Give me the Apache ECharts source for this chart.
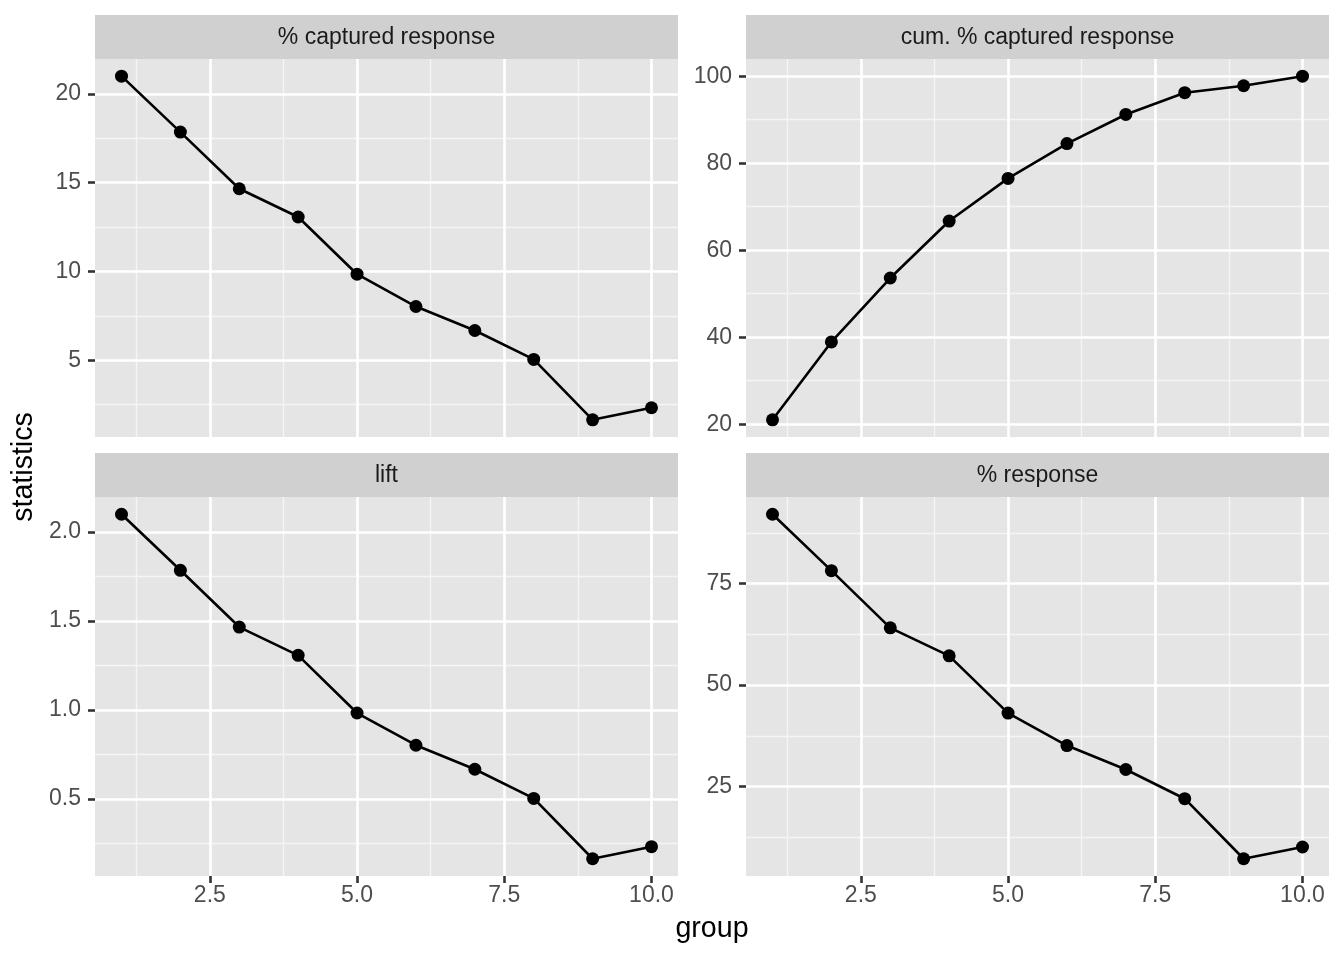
<!DOCTYPE html>
<html>
<head>
<meta charset="utf-8">
<script src="https://cdn.jsdelivr.net/npm/echarts@6/dist/echarts.min.js"></script>
<style>
html,body{margin:0;padding:0;background:#fff;}
#chart{width:1344px;height:960px;}
</style>
</head>
<body>
<div id="chart"></div>
<script>
// ---- data ----
const groups = [1, 2, 3, 4, 5, 6, 7, 8, 9, 10];
const capturedPct = [21.0, 17.85, 14.66, 13.07, 9.85, 8.03, 6.68, 5.05, 1.65, 2.33];
const cumCapturedPct = [21.0, 38.9, 53.6, 66.7, 76.5, 84.5, 91.2, 96.2, 97.8, 100.0];
const liftVals = [2.10, 1.785, 1.466, 1.307, 0.983, 0.802, 0.667, 0.503, 0.164, 0.232];
const responsePct = [92.1, 78.2, 64.1, 57.2, 43.1, 35.1, 29.2, 22.0, 7.2, 10.1];

const panelTitles = ['% captured response', 'cum. % captured response', 'lift', '% response'];

const xMajor = [2.5, 5.0, 7.5, 10.0];
const xMinor = [1.25, 3.75, 6.25, 8.75];
const yMajorCaptured = [5, 10, 15, 20];
const yMinorCaptured = [2.5, 7.5, 12.5, 17.5];
const yMajorCum = [20, 40, 60, 80, 100];
const yMinorCum = [30, 50, 70, 90];
const yMajorLift = [0.5, 1.0, 1.5, 2.0];
const yMinorLift = [0.25, 0.75, 1.25, 1.75];
const yMajorResp = [25, 50, 75];
const yMinorResp = [12.5, 37.5, 62.5, 87.5];

// ---- helpers ----
function expandRange(arr) {
  const lo = Math.min(...arr), hi = Math.max(...arr);
  const pad = (hi - lo) * 0.05;
  return [lo - pad, hi + pad];
}

const panels = [
  { values: capturedPct, yMajor: yMajorCaptured, yMinor: yMinorCaptured, dec: 0, showX: false },
  { values: cumCapturedPct, yMajor: yMajorCum, yMinor: yMinorCum, dec: 0, showX: false },
  { values: liftVals, yMajor: yMajorLift, yMinor: yMinorLift, dec: 1, showX: true },
  { values: responsePct, yMajor: yMajorResp, yMinor: yMinorResp, dec: 0, showX: true }
];

const grids = [
  { left: 95, top: 59, width: 583, height: 378 },
  { left: 746, top: 59, width: 583, height: 378 },
  { left: 95, top: 497, width: 583, height: 379 },
  { left: 746, top: 497, width: 583, height: 379 }
];

const FONT = '"Liberation Sans", Arial, Helvetica, sans-serif';
const TICK_FS = 23;
const TITLE_FS = 28.6;
const xr = expandRange(groups);

const option = {
  backgroundColor: '#ffffff',
  animation: false,
  textStyle: { fontFamily: FONT },
  grid: grids.map(g => Object.assign({ show: true, backgroundColor: '#E5E5E5', borderWidth: 0, containLabel: false }, g)),
  xAxis: [],
  yAxis: [],
  series: [],
  graphic: []
};

panels.forEach((p, i) => {
  const yr = expandRange(p.values);
  // minor x gridlines
  option.xAxis.push({
    type: 'value', gridIndex: i, min: xr[0], max: xr[1], position: 'top', z: 0,
    axisLine: { show: false }, axisLabel: { show: false },
    axisTick: { show: false, customValues: xMinor },
    splitLine: { show: true, lineStyle: { color: '#F5F5F5', width: 1.3 } }
  });
  // major x axis
  option.xAxis.push({
    type: 'value', gridIndex: i, min: xr[0], max: xr[1], position: 'bottom', z: 1,
    axisLine: { show: false },
    axisTick: { show: p.showX, customValues: xMajor, length: 7, lineStyle: { color: '#333333', width: 2.6 } },
    axisLabel: { show: p.showX, customValues: xMajor, formatter: v => Number(v).toFixed(1),
      color: '#4D4D4D', fontSize: TICK_FS, fontFamily: FONT, margin: 8 },
    splitLine: { show: true, lineStyle: { color: '#FFFFFF', width: 2.6 } }
  });
  // minor y gridlines
  option.yAxis.push({
    type: 'value', gridIndex: i, min: yr[0], max: yr[1], position: 'right', z: 0,
    axisLine: { show: false }, axisLabel: { show: false },
    axisTick: { show: false, customValues: p.yMinor },
    splitLine: { show: true, lineStyle: { color: '#F5F5F5', width: 1.3 } }
  });
  // major y axis
  option.yAxis.push({
    type: 'value', gridIndex: i, min: yr[0], max: yr[1], position: 'left', z: 1,
    axisLine: { show: false },
    axisTick: { show: true, customValues: p.yMajor, length: 7, lineStyle: { color: '#333333', width: 2.6 } },
    axisLabel: { show: true, customValues: p.yMajor, formatter: v => Number(v).toFixed(p.dec),
      color: '#4D4D4D', fontSize: TICK_FS, fontFamily: FONT, margin: 14 },
    splitLine: { show: true, lineStyle: { color: '#FFFFFF', width: 2.6 } }
  });
  option.series.push({
    type: 'line',
    xAxisIndex: 2 * i + 1,
    yAxisIndex: 2 * i + 1,
    data: groups.map((g, k) => [g, p.values[k]]),
    symbol: 'circle',
    symbolSize: 13,
    showSymbol: true,
    lineStyle: { color: '#000000', width: 2.6 },
    itemStyle: { color: '#000000' },
    z: 5
  });
  const g = grids[i];
  option.graphic.push({
    type: 'rect', silent: true,
    shape: { x: g.left, y: g.top - 44, width: g.width, height: 44 },
    style: { fill: '#D0D0D0' }
  });
  option.graphic.push({
    type: 'text', silent: true,
    x: g.left + g.width / 2, y: g.top - 21,
    style: { text: panelTitles[i], fill: '#1A1A1A', font: TICK_FS + 'px ' + FONT, align: 'center', verticalAlign: 'middle' }
  });
});

// axis titles
option.graphic.push({
  type: 'text', silent: true,
  x: 712, y: 929,
  style: { text: 'group', fill: '#000000', font: TITLE_FS + 'px ' + FONT, align: 'center', verticalAlign: 'middle' }
});
option.graphic.push({
  type: 'text', silent: true,
  x: 24, y: 467, rotation: Math.PI / 2,
  style: { text: 'statistics', fill: '#000000', font: TITLE_FS + 'px ' + FONT, align: 'center', verticalAlign: 'middle' }
});

const chart = echarts.init(document.getElementById('chart'), null, { renderer: 'canvas' });
chart.setOption(option);
</script>
</body>
</html>
